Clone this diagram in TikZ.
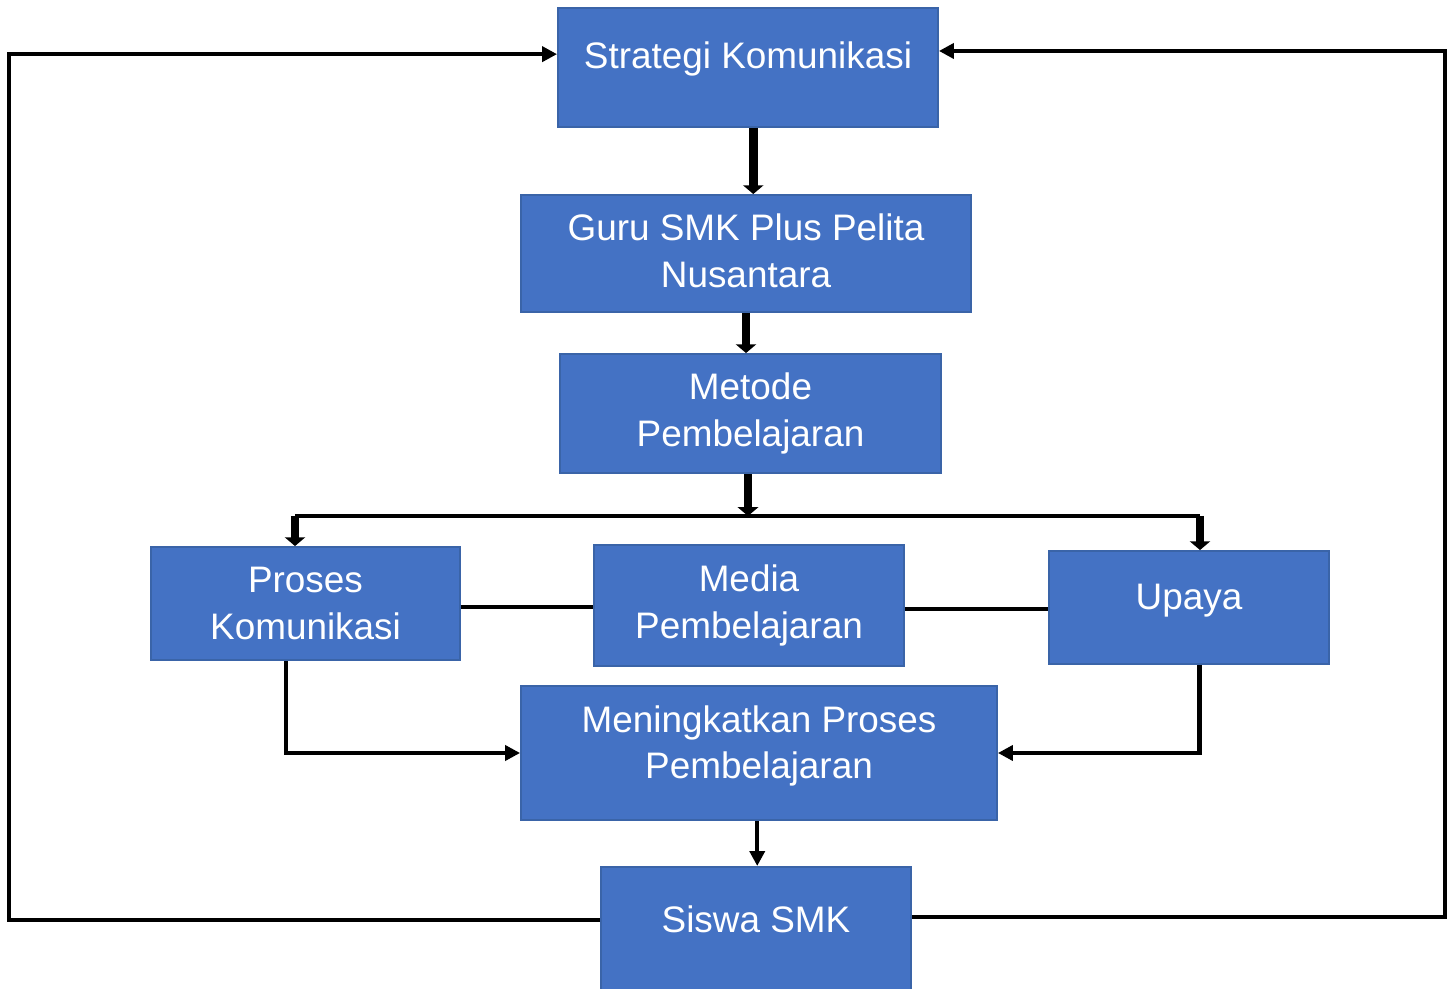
\documentclass[tikz,border=0pt]{standalone}
\usepackage{fontspec}
\setmainfont{Liberation Sans}
\usetikzlibrary{arrows.meta}
\definecolor{boxfill}{HTML}{4472C4}
\definecolor{boxline}{HTML}{3A64A8}
\begin{document}
\begin{tikzpicture}[x=0.02cm, y=-0.02cm,
    box/.style={draw=boxline, line width=1.1pt, fill=boxfill, text=white,
        align=center, inner sep=0pt, font={\fontsize{21pt}{26.6pt}\selectfont}},
    thickarr/.style={line width=5pt, -{Triangle[length=5pt, width=11.5pt]}},
    thinline/.style={line width=2.4pt},
    thinarr/.style={line width=2.4pt, -{Triangle[length=8.5pt, width=8.5pt]}}]
    \useasboundingbox (0,0) rectangle (1448,989);

    % kotak
    \node[box, minimum width=7.6cm, minimum height=2.38cm, text depth=14.2pt] (strat) at (748,67.5) {Strategi Komunikasi};
    \node[box, minimum width=9cm, minimum height=2.34cm, text depth=3.4pt] (guru) at (746,253.5) {Guru SMK Plus Pelita\\Nusantara};
    \node[box, minimum width=7.62cm, minimum height=2.38cm] (metode) at (750.5,413.5) {Metode\\Pembelajaran};
    \node[box, minimum width=6.18cm, minimum height=2.26cm] (proses) at (305.5,603.5) {Proses\\Komunikasi};
    \node[box, minimum width=6.2cm, minimum height=2.42cm] (media) at (749,605.5) {Media\\Pembelajaran};
    \node[box, minimum width=5.6cm, minimum height=2.26cm, text depth=12.3pt] (upaya) at (1189,607.5) {Upaya};
    \node[box, minimum width=9.52cm, minimum height=2.68cm, text depth=12.3pt] (menin) at (759,753) {Meningkatkan Proses\\Pembelajaran};
    \node[box, anchor=north, minimum width=6.2cm, minimum height=2.6cm, text depth=14.7pt] (siswa) at (756,866) {Siswa SMK};

    \coordinate (split) at (748,516);
    \coordinate (splitL) at (295,516);
    \coordinate (splitR) at (1200,516);
    \coordinate (loopL) at (9,920);
    \coordinate (loopR) at (1445,917);

    % panah
    \draw[thickarr] ([xshift=3pt]strat.south) -- ([xshift=3pt]strat.south |- guru.north);
    \draw[thickarr] (guru.south) -- (guru.south |- metode.north);
    \draw[thickarr] (split |- metode.south) -- (split);
    \draw[thinline] (splitL) -- (splitR);
    \draw[thickarr] (splitL) -- (splitL |- proses.north);
    \draw[thickarr] (splitR) -- (splitR |- upaya.north);

    \draw[thinline] ([yshift=-2pt]proses.east) -- ([yshift=-2pt]proses.east -| media.west);
    \draw[thinline] ([yshift=-2pt]media.east) -- ([yshift=-2pt]media.east -| upaya.west);

    \draw[thinarr] ([xshift=-11pt]proses.south) |- (menin.west);
    \draw[thinarr] ([xshift=6pt]upaya.south) |- (menin.east);
    \draw[thinarr] ([xshift=-1pt]menin.south) -- ([xshift=-1pt]menin.south |- siswa.north);

    \draw[thinarr] (siswa.west |- loopL) -- (loopL) |- ([yshift=7.6pt]strat.west);
    \draw[thinarr] (siswa.east |- loopR) -- (loopR) |- ([yshift=9.4pt]strat.east);
\end{tikzpicture}
\end{document}
